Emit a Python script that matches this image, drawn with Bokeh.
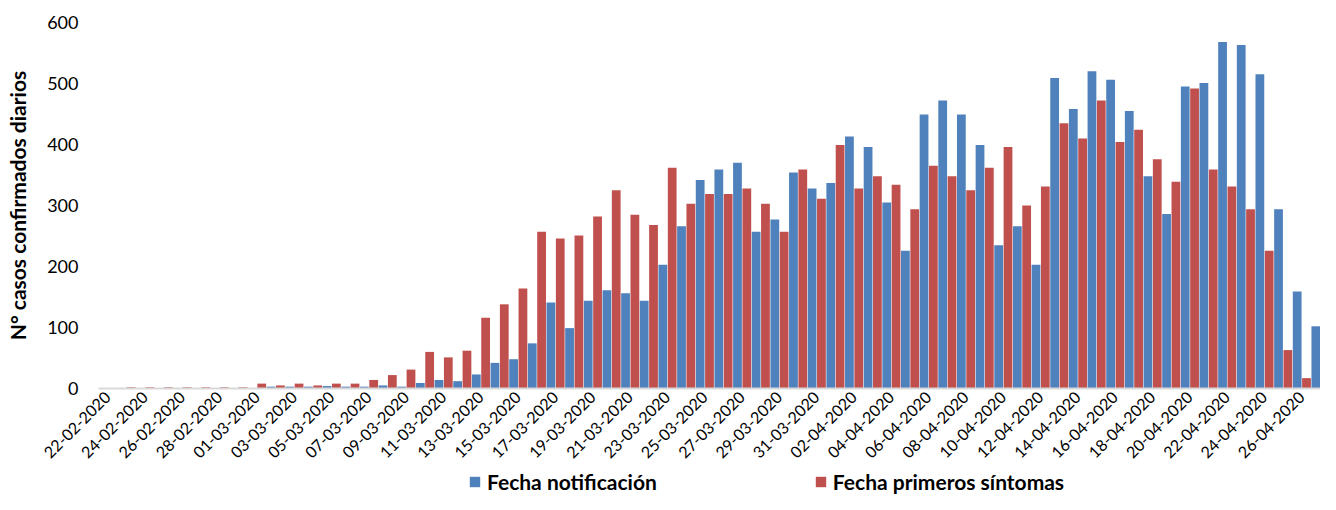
import math
from bokeh.plotting import figure
from bokeh.models import Range1d, ColumnDataSource, Legend, LegendItem, FixedTicker
from bokeh.transform import dodge
from bokeh.embed import file_html
from bokeh.resources import INLINE

dates = [
    "22-02-2020", "23-02-2020", "24-02-2020", "25-02-2020", "26-02-2020", "27-02-2020", "28-02-2020", "29-02-2020",
    "01-03-2020", "02-03-2020", "03-03-2020", "04-03-2020", "05-03-2020", "06-03-2020", "07-03-2020", "08-03-2020",
    "09-03-2020", "10-03-2020", "11-03-2020", "12-03-2020", "13-03-2020", "14-03-2020", "15-03-2020", "16-03-2020",
    "17-03-2020", "18-03-2020", "19-03-2020", "20-03-2020", "21-03-2020", "22-03-2020", "23-03-2020", "24-03-2020",
    "25-03-2020", "26-03-2020", "27-03-2020", "28-03-2020", "29-03-2020", "30-03-2020", "31-03-2020",
    "01-04-2020", "02-04-2020", "03-04-2020", "04-04-2020", "05-04-2020", "06-04-2020", "07-04-2020", "08-04-2020",
    "09-04-2020", "10-04-2020", "11-04-2020", "12-04-2020", "13-04-2020", "14-04-2020", "15-04-2020", "16-04-2020",
    "17-04-2020", "18-04-2020", "19-04-2020", "20-04-2020", "21-04-2020", "22-04-2020", "23-04-2020", "24-04-2020",
    "25-04-2020", "26-04-2020", "27-04-2020",
]

notificacion = [
    0, 0, 0, 0, 0, 0, 0, 0,
    0, 3, 3, 3, 4, 3, 3, 5,
    3, 9, 14, 12, 23, 42, 48, 74,
    141, 99, 144, 161, 156, 144, 203, 266,
    342, 359, 370, 257, 277, 354, 328,
    337, 413, 396, 305, 226, 449, 472, 449,
    399, 235, 266, 203, 509, 458, 520, 506,
    455, 348, 286, 495, 501, 568, 563, 515,
    294, 159, 102,
]

sintomas = [
    0, 2, 2, 2, 2, 2, 2, 2,
    8, 5, 8, 5, 8, 8, 14, 22,
    31, 60, 51, 62, 116, 138, 164, 257,
    246, 251, 282, 325, 285, 268, 362, 303,
    319, 319, 328, 303, 257, 359, 311,
    399, 328, 348, 334, 294, 365, 348, 325,
    362, 396, 300, 331, 435, 410, 472, 404,
    424, 376, 339, 492, 359, 331, 294, 226,
    63, 17, 4,
]

y_ticks = [0, 100, 200, 300, 400, 500, 600]

FONT = "Lato"
BLUE = "#4F81BD"
RED = "#C0504D"

W, H = 1320, 494
# plotting area of the original: x from 98px to right edge, value 600 at 22px, value 0 at 388px
X0, X1 = -0.5, 65.0
PX_X = (W - 98) / (X1 - X0)
X_START = X0 - 98 / PX_X
PX_Y = (388 - 22) / 600.0
Y_TOP = 600 + 22 / PX_Y
Y_BOTTOM = -(H - 388) / PX_Y

idx = list(range(len(dates)))
src = ColumnDataSource(dict(x=idx, n=notificacion, s=sintomas, d=dates))

p = figure(width=W, height=H,
           x_range=Range1d(X_START, X1), y_range=Range1d(Y_BOTTOM, Y_TOP),
           output_backend="svg", toolbar_location=None,
           min_border_left=0, min_border_right=0, min_border_top=0, min_border_bottom=0)
p.outline_line_color = None
p.xgrid.visible = False
p.ygrid.visible = False

r1 = p.vbar(x=dodge("x", -0.25, range=p.x_range), top="n", width=0.47, source=src,
            fill_color=BLUE, line_color=None)
r2 = p.vbar(x=dodge("x", 0.25, range=p.x_range), top="s", width=0.47, source=src,
            fill_color=RED, line_color=None)

# x axis (in the "below" panel, drawn at value 0)
xt = list(range(0, len(dates), 2))
p.xaxis.fixed_location = 0
p.xaxis.bounds = (X0, X1)
p.xaxis.ticker = FixedTicker(ticks=xt)
p.xaxis.major_label_overrides = {i: dates[i] for i in xt}
p.xaxis.major_label_orientation = math.pi / 4
p.xaxis.major_label_text_font = FONT
p.xaxis.major_label_text_font_size = "16px"
p.xaxis.major_label_text_color = "#000000"
p.xaxis.major_label_standoff = 6
p.xaxis.major_tick_line_color = None
p.xaxis.minor_tick_line_color = None
p.xaxis.major_tick_out = 0
p.xaxis.minor_tick_out = 0
p.xaxis.axis_line_color = "#D9D9D9"
p.xaxis.axis_line_width = 2

# y axis (in the "left" panel, drawn at the start of the categories)
p.yaxis.fixed_location = X0
p.yaxis.bounds = (0, 600)
p.yaxis.ticker = FixedTicker(ticks=y_ticks)
p.yaxis.major_label_text_font = FONT
p.yaxis.major_label_text_font_size = "18px"
p.yaxis.major_label_text_color = "#000000"
p.yaxis.major_label_standoff = 20
p.yaxis.major_tick_line_color = None
p.yaxis.minor_tick_line_color = None
p.yaxis.major_tick_out = 0
p.yaxis.minor_tick_out = 0
p.yaxis.axis_line_color = None
p.yaxis.axis_label = "N° casos confirmados diarios"
p.yaxis.axis_label_text_font = FONT
p.yaxis.axis_label_text_font_style = "bold"
p.yaxis.axis_label_text_font_size = "21px"
p.yaxis.axis_label_text_color = "#000000"
p.yaxis.axis_label_standoff = 14

legend = Legend(items=[LegendItem(label="Fecha notificación", renderers=[r1]),
                       LegendItem(label="Fecha primeros síntomas", renderers=[r2])],
                orientation="horizontal", location=(468, 0),
                glyph_width=13, glyph_height=13, label_standoff=6, spacing=157,
                padding=0, margin=0, border_line_color=None, background_fill_alpha=0,
                label_text_font=FONT, label_text_font_style="bold",
                label_text_font_size="21px", label_text_color="#000000")
p.add_layout(legend)

open("out.html", "w").write(file_html(p, INLINE))
